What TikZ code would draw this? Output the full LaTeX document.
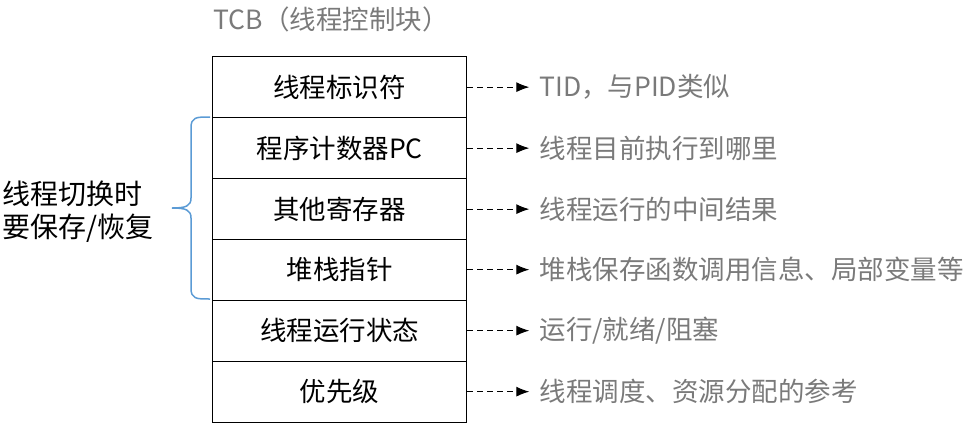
\documentclass[tikz,border=0pt]{standalone}
\usepackage{fontspec}
\newfontfamily\cjk{Noto Sans CJK SC}
\usetikzlibrary{arrows.meta,calc}
\definecolor{labelgray}{HTML}{7A7A7A}
\definecolor{braceblue}{HTML}{5B9BD5}
\tikzset{
  row/.style={draw=black, line width=1.3pt, minimum width=254pt, minimum height=61pt, inner sep=0pt, anchor=north west, font=\cjk\fontsize{26.5}{30}\selectfont, text=black},
  note/.style={anchor=west, inner sep=0pt, font=\cjk\fontsize{26.5}{30}\selectfont, text=labelgray},
  pointer/.style={draw=black, line width=1pt, dash pattern=on 6pt off 4pt, -{Latex[length=13pt,width=10pt]}}
}
\begin{document}
\begin{tikzpicture}[x=1pt,y=-1pt]
\useasboundingbox (0,0) rectangle (972,429);
\node[inner sep=0pt, font=\cjk\fontsize{26.5}{30}\selectfont, text=labelgray] (title) at (331,19) {TCB（线程控制块）};
\node[row] (r1) at (212,56) {线程标识符};
\node[row] (r2) at (212,117) {程序计数器PC};
\node[row] (r3) at (212,178) {其他寄存器};
\node[row] (r4) at (212,238.5) {堆栈指针};
\node[row] (r5) at (212,299.5) {线程运行状态};
\node[row] (r6) at (212,360.5) {优先级};
\foreach \i/\t in {1/{TID，与PID类似},2/{线程目前执行到哪里},3/{线程运行的中间结果},4/{堆栈保存函数调用信息、局部变量等},5/{运行/就绪/阻塞},6/{线程调度、资源分配的参考}}{
  \coordinate (e\i) at ($(r\i.east)+(62,0)$);
  \draw[pointer] (r\i.east) -- (e\i);
  \node[note] (n\i) at ($(r\i.east)+(72,0)$) {\t};
}
\coordinate (bt) at (210,117);
\coordinate (bb) at (210,299);
\coordinate (bm) at (172,208);
\draw[braceblue, line width=1.5pt] (bt) .. controls (196,117) and (191,117) .. (191,128) -- (191,198) .. controls (191,206) and (186,208) .. (bm) .. controls (186,208) and (191,210) .. (191,218) -- (191,288) .. controls (191,299) and (196,299) .. (bb);
\node[anchor=east, inner sep=0pt, align=left, font=\cjk\fontsize{28}{33}\selectfont, text=black] (left) at (154,212) {线程切换时\\要保存/恢复};
\end{tikzpicture}
\end{document}
